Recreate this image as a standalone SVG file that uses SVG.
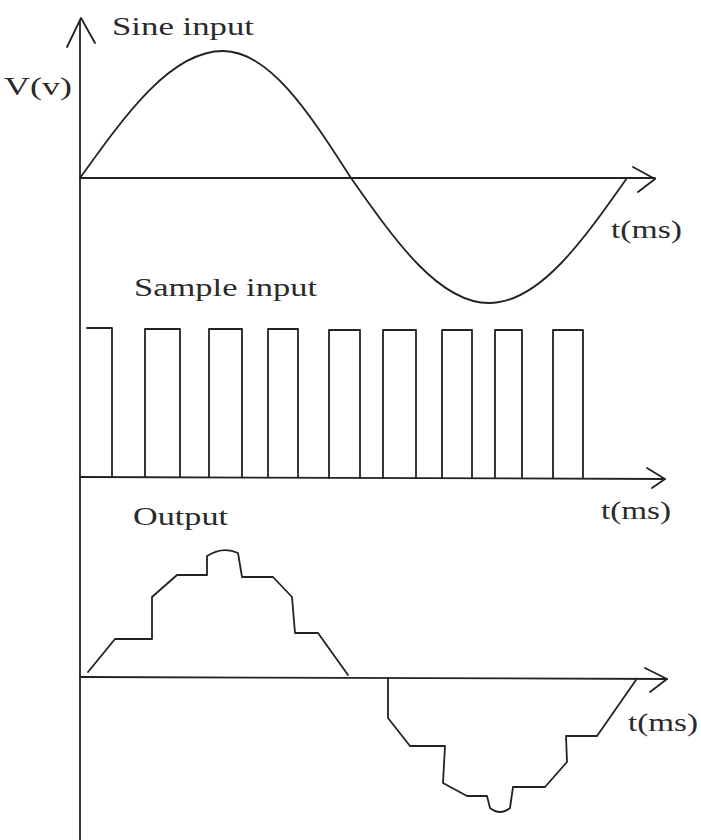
<svg xmlns="http://www.w3.org/2000/svg" width="701" height="840" viewBox="0 0 701 840">
<style>
.ln{fill:none;stroke:#222;stroke-width:1.8;stroke-linejoin:round;stroke-linecap:round}
.lb{font-family:"Liberation Serif","Times New Roman",serif;font-size:26px;fill:#2a2a2a}
</style>
<rect width="701" height="840" fill="#fff"/>
<g id="axes" class="ln">
<path d="M80,22 V840"/>
<path d="M67,47 L81,18 L95,43"/>
<path d="M80,178 H655"/>
<path d="M633,167 L655,179 L638,192"/>
<path d="M80,477 L665,479"/>
<path d="M647,468 L665,479 L652,488"/>
<path d="M80,677 L667,679"/>
<path d="M645,668 L667,679 L650,692"/>
</g>
<g id="sine" class="ln">
<path d="M80,178 C126.6,112.9 171.2,51 223,51 C269.3,51 309.3,112.9 351,178 C396,242 439.1,303 489,303 C538.9,303 582,242 627,178"/>
</g>
<g id="pulses" class="ln">
<path d="M87,328 H112 V477 M145,477 V329 H180 V477 M209,477 V329 H242 V477 M268,477 V329 H298 V477 M329,478 V330 H360 V478 M383,478 V330 H416 V478 M442,478 V330 H472 V478 M495,478 V330 H522 V478 M553,478 V330 H583 V478"/>
</g>
<g id="output" class="ln">
<path d="M88,672 L115,639 H152 V597 L177,575 H207 V556 Q223,546 238,553 L242,577 H273 L292,597 L295,633 H318 L348,675"/>
<path d="M388,678 V718 L410,746 H445 L443,783 L467,796 H487 L490,808 Q500,816 510,808 L513,787 H545 L567,762 L566,736 H597 L636,680"/>
</g>
<g id="labels" class="lb">
<text x="4" y="95" textLength="68" lengthAdjust="spacingAndGlyphs">V(v)</text>
<text x="112" y="35" textLength="142" lengthAdjust="spacingAndGlyphs">Sine input</text>
<text x="611" y="238" textLength="71" lengthAdjust="spacingAndGlyphs">t(ms)</text>
<text x="134" y="296" textLength="183" lengthAdjust="spacingAndGlyphs">Sample input</text>
<text x="601" y="519" textLength="70" lengthAdjust="spacingAndGlyphs">t(ms)</text>
<text x="133" y="525" textLength="95" lengthAdjust="spacingAndGlyphs">Output</text>
<text x="628" y="731" textLength="70" lengthAdjust="spacingAndGlyphs">t(ms)</text>
</g>
</svg>
